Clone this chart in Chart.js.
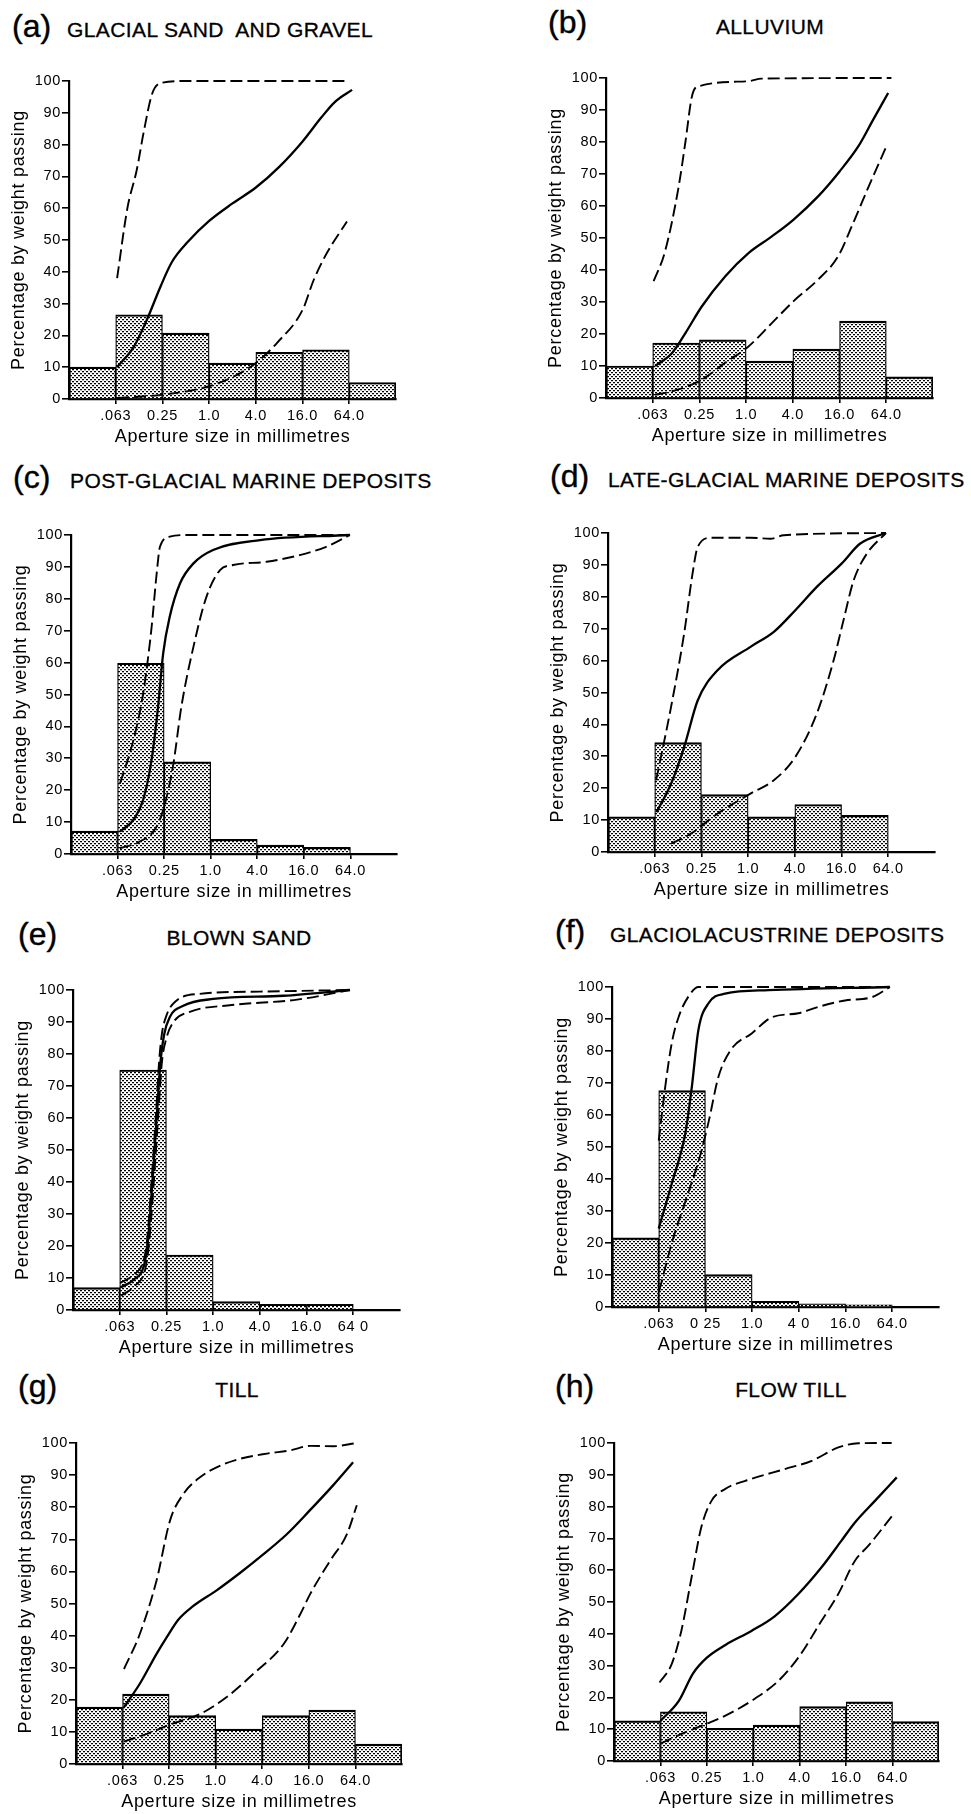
<!DOCTYPE html>
<html>
<head>
<meta charset="utf-8">
<title>Grading curves of superficial deposits</title>
<script src="https://cdn.jsdelivr.net/npm/chart.js@4.4.1/dist/chart.umd.min.js"></script>
<style>
  html, body { margin: 0; padding: 0; background: #fff; }
  #page { position: relative; width: 971px; height: 1814px; overflow: hidden;
          font-family: 'Liberation Sans', Arial, sans-serif; color: #000; }
  #page canvas { position: absolute; }
  .tag  { position: absolute; font-size: 32px; line-height: 32px; white-space: pre; -webkit-text-stroke: 0.4px #000; }
  .name { position: absolute; font-size: 21px; line-height: 21px; letter-spacing: 0.4px; white-space: pre; -webkit-text-stroke: 0.3px #000; }
  .centred { transform: translateX(-50%); }
</style>
</head>
<body>
<div id="page"></div>
<script>
// x positions are in sieve classes: 1 = .063 mm, 2 = 0.25 mm ... 6 = 64 mm
const sizeLabels  = ['.063', '0.25', '1.0', '4.0', '16.0', '64.0'];
const sizeLabelsE = ['.063', '0.25', '1.0', '4.0', '16.0', '64 0'];
const sizeLabelsF = ['.063', '0 25', '1.0', '4 0', '16.0', '64.0'];
const binCentres  = [0.5, 1.5, 2.5, 3.5, 4.5, 5.5, 6.5];

// (a) glacial sand and gravel
const aBars  = [10, 26.5, 20.7, 11.3, 14.7, 15.5, 5.2];
const aUpper = [[1.03, 38], [1.25, 60], [1.45, 72], [1.6, 84], [1.78, 96], [2.0, 99.5], [2.5, 100], [6.0, 100]];
const aMid   = [[1.03, 10], [1.39, 16.5], [1.67, 25], [1.96, 35.4], [2.2, 43], [2.55, 49.5], [3.0, 56], [3.5, 61.5],
                [4.0, 66.5], [4.5, 73], [5.0, 81], [5.4, 88.5], [5.7, 93.5], [6.06, 97.2]];
const aLower = [[1.03, 0.3], [2.03, 1.4], [3.0, 4], [3.53, 7.1], [4.0, 11.3], [4.45, 17.6], [5.0, 28], [5.24, 37.5],
                [5.52, 45.9], [5.95, 55.8]];

// (b) alluvium
const bBars  = [10, 17.2, 18.2, 11.5, 15.3, 24, 6.6];
const bUpper = [[1.02, 36.5], [1.26, 45.6], [1.55, 65.6], [1.7, 80], [1.84, 94.3], [1.98, 97.4], [3.05, 99], [3.33, 99.8], [6.11, 100]];
const bMid   = [[1.05, 10], [1.41, 14], [1.7, 20.3], [2.05, 28.6], [2.55, 38], [3.05, 45.3], [3.55, 50.5], [4.01, 55.7],
                [4.54, 63], [5.0, 70.8], [5.4, 78.6], [5.72, 87], [6.04, 95.3]];
const bLower = [[1.05, 1], [1.41, 2.1], [2.05, 5.7], [2.55, 11], [3.05, 16.1], [3.55, 23.4], [4.01, 30.2], [4.54, 37],
                [4.97, 44.3], [5.26, 53.6], [5.62, 66], [6.0, 78.6]];

// (c) post-glacial marine deposits
const cBars  = [7.2, 59.8, 28.9, 4.6, 2.8, 2.1, 0];
const cUpper = [[1.05, 22], [1.34, 35.7], [1.55, 50.4], [1.73, 71], [1.84, 88], [1.91, 96.3], [2.12, 99.5], [2.5, 100], [5.99, 100]];
const cMid   = [[1.05, 7], [1.34, 10.7], [1.55, 17], [1.73, 29.5], [1.87, 46.2], [1.98, 63], [2.12, 74.4], [2.34, 84.8],
                [2.63, 91.1], [3.05, 95.3], [4.06, 98.4], [5.99, 100]];
const cLower = [[1.05, 1.8], [1.48, 3.9], [1.84, 8.6], [2.02, 15.9], [2.2, 28.4], [2.37, 46.2], [2.63, 65], [2.91, 80.7],
                [3.2, 89], [3.48, 90.6], [4.2, 91.6], [4.91, 93.7], [5.48, 96.3], [5.99, 100]];

// (d) late-glacial marine deposits
const dBars  = [11, 34.3, 18, 11, 14.9, 11.5, 0];
const dUpper = [[1.03, 22.5], [1.35, 45.5], [1.63, 68.5], [1.81, 87.3], [1.92, 95.6], [2.2, 98.5], [3.05, 98.5], [3.48, 98.2],
                [3.76, 99.3], [5.95, 100]];
const dMid   = [[1.04, 12.5], [1.35, 21.4], [1.63, 32.9], [1.92, 47.5], [2.34, 56.9], [3.05, 64.3], [3.55, 69], [4.01, 75.8],
                [4.47, 83.1], [5.0, 90.4], [5.4, 96.7], [5.95, 100]];
const dLower = [[1.35, 2.6], [1.77, 5.7], [2.34, 12], [3.05, 18.3], [3.55, 22.5], [4.01, 29.8], [4.47, 43.4], [4.83, 60.1],
                [5.04, 72.6], [5.26, 85.2], [5.54, 93.5], [5.95, 100]];

// (e) blown sand
const eBars  = [7, 75, 17.2, 2.6, 1.8, 1.8, 0];
const eUpper = [[1.01, 8.5], [1.3, 11], [1.5, 15], [1.58, 21], [1.68, 40], [1.78, 62], [1.84, 77], [1.9, 86], [2.0, 92],
                [2.2, 96.5], [2.71, 98.8], [4.0, 99.5], [5.93, 100]];
const eMid   = [[1.01, 7], [1.3, 9.5], [1.52, 14], [1.6, 21], [1.7, 40], [1.8, 62], [1.87, 77], [1.95, 86], [2.07, 91.5],
                [2.35, 95], [3.0, 97.2], [4.5, 98.2], [5.93, 100]];
const eLower = [[1.03, 4.5], [1.32, 7.5], [1.55, 13], [1.63, 21], [1.73, 40], [1.83, 62], [1.9, 77], [2.0, 85], [2.15, 90],
                [2.5, 93.2], [3.4, 95.3], [4.8, 97], [5.93, 100]];

// (f) glaciolacustrine deposits
const fBars  = [21.6, 67.6, 10.1, 1.8, 1.0, 0.7, 0];
const fUpper = [[1.0, 52], [1.14, 68.9], [1.28, 82.5], [1.43, 90.8], [1.64, 97.1], [1.85, 100], [5.95, 100]];
const fMid   = [[1.0, 24.5], [1.28, 38.6], [1.57, 54.3], [1.71, 68.9], [1.85, 86.6], [2.07, 95], [2.42, 97.9], [3.35, 99], [5.95, 100]];
const fLower = [[1.01, 5], [1.3, 21], [1.64, 36], [1.9, 48], [2.07, 58], [2.28, 72], [2.55, 80.5], [2.99, 85.5], [3.42, 90.5],
                [3.99, 91.8], [4.42, 93.8], [4.99, 95.8], [5.56, 96.8], [5.95, 100]];

// (g) till
const gBars  = [17.7, 21.8, 15.1, 10.9, 15.1, 16.8, 6.2];
const gUpper = [[1.03, 29.6], [1.37, 40.5], [1.73, 57.2], [2.02, 75.9], [2.31, 84.2], [2.67, 89.4], [3.03, 92.5], [3.53, 95.1],
                [4.1, 96.7], [4.6, 97.7], [5.03, 99.1], [5.53, 99], [6.03, 100]];
const gMid   = [[1.03, 17.7], [1.37, 25], [1.73, 34.3], [1.95, 39.5], [2.2, 45], [2.5, 49], [3.02, 54.1], [3.52, 59.5],
                [4.02, 65.3], [4.52, 71.5], [5.02, 79], [5.52, 86.8], [5.95, 94]];
const gLower = [[1.03, 7], [1.52, 9.4], [2.02, 12.3], [2.67, 15.6], [3.23, 20.8], [3.81, 28.1], [4.46, 37.4], [4.82, 46.8],
                [5.03, 53], [5.46, 63.4], [5.82, 71.7], [6.03, 80.6]];

// (h) flow till
const hBars  = [12.6, 15.5, 10.3, 11.3, 17.1, 18.6, 12.4];
const hUpper = [[0.98, 24.7], [1.24, 30.4], [1.45, 40.9], [1.67, 57.7], [1.88, 73.5], [2.1, 81.8], [2.39, 85.5], [2.96, 88.7],
                [3.68, 91.8], [4.26, 94.4], [4.83, 98.6], [5.26, 99.9], [5.98, 100]];
const hMid   = [[1.0, 12.6], [1.4, 19], [1.7, 27.5], [2.0, 32.5], [2.4, 36.5], [2.96, 40.9], [3.46, 45.5], [3.97, 52.5],
                [4.47, 60.9], [4.9, 69.3], [5.19, 75], [5.62, 81.8], [6.09, 89.2]];
const hLower = [[1.0, 5.5], [1.52, 8.9], [1.96, 11.5], [2.39, 14.2], [2.96, 18.9], [3.54, 25.2], [3.97, 32.5], [4.47, 44.1],
                [4.83, 52.5], [5.19, 63], [5.48, 67.7], [6.05, 78.2]];

const FONT = "'Liberation Sans', Arial, sans-serif";
const INK = '#000';
const AXIS_W = 61, AXIS_H = 49, PAD_T = 12, PAD_R = 12;

// box: [x of 0, x of 7, y of 100, y of 0] on the page
const panels = [
  { tag: '(a)', tagX: 12,  name: 'GLACIAL SAND  AND GRAVEL',     nameX: 67,  base: 37,   box: [69, 396, 81, 399],
    bars: aBars, upper: aUpper, mid: aMid, lower: aLower, labels: sizeLabels },
  { tag: '(b)', tagX: 548, name: 'ALLUVIUM',                     nameX: 770, base: 33.5, box: [606, 933, 78, 398], centred: true,
    bars: bBars, upper: bUpper, mid: bMid, lower: bLower, labels: sizeLabels },
  { tag: '(c)', tagX: 13,  name: 'POST-GLACIAL MARINE DEPOSITS', nameX: 70,  base: 488,  box: [71, 397, 535, 854],
    bars: cBars, upper: cUpper, mid: cMid, lower: cLower, labels: sizeLabels },
  { tag: '(d)', tagX: 550, name: 'LATE-GLACIAL MARINE DEPOSITS', nameX: 608, base: 487,  box: [608, 935, 533, 852],
    bars: dBars, upper: dUpper, mid: dMid, lower: dLower, labels: sizeLabels },
  { tag: '(e)', tagX: 18,  name: 'BLOWN SAND',                   nameX: 239, base: 945,  box: [73, 400, 990, 1310], centred: true,
    bars: eBars, upper: eUpper, mid: eMid, lower: eLower, labels: sizeLabelsE },
  { tag: '(f)', tagX: 555, name: 'GLACIOLACUSTRINE DEPOSITS',    nameX: 610, base: 942,  box: [612, 939, 987, 1307],
    bars: fBars, upper: fUpper, mid: fMid, lower: fLower, labels: sizeLabelsF },
  { tag: '(g)', tagX: 18,  name: 'TILL',                         nameX: 237, base: 1397, box: [76, 402, 1443, 1764], centred: true,
    bars: gBars, upper: gUpper, mid: gMid, lower: gLower, labels: sizeLabels },
  { tag: '(h)', tagX: 555, name: 'FLOW TILL',                    nameX: 791, base: 1397, box: [614, 939, 1443, 1761], centred: true,
    bars: hBars, upper: hUpper, mid: hMid, lower: hLower, labels: sizeLabels },
];

const page = document.getElementById('page');

// dotted fill like the printed stipple
function makeStipple() {
  const c = document.createElement('canvas');
  c.width = 4; c.height = 4;
  const g = c.getContext('2d');
  g.fillStyle = '#fff'; g.fillRect(0, 0, 4, 4);
  g.fillStyle = '#000'; g.fillRect(0, 0, 2, 1); g.fillRect(2, 2, 2, 1);
  g.fillStyle = '#bbb'; g.fillRect(0, 1, 2, 1); g.fillRect(2, 3, 2, 1);
  return g.createPattern(c, 'repeat');
}
const stipple = makeStipple();

// the printed lettering is widely tracked
const spacing = { id: 'spacing', beforeDraw: (chart) => { chart.ctx.letterSpacing = '0.7px'; } };

function curve(pts, dashed) {
  return {
    type: 'line',
    data: pts.map(([x, y]) => ({ x, y })),
    borderColor: INK,
    borderWidth: dashed ? 1.9 : 2.3,
    borderDash: dashed ? [12, 5] : [],
    pointRadius: 0,
    fill: false,
    cubicInterpolationMode: 'monotone',
    clip: false,
    order: 1
  };
}

function addHeading(p) {
  const tag = document.createElement('div');
  tag.className = 'tag';
  tag.textContent = p.tag;
  tag.style.left = p.tagX + 'px';
  tag.style.top = (p.base - 0.8465 * 32) + 'px';
  page.appendChild(tag);

  const name = document.createElement('div');
  name.className = 'name' + (p.centred ? ' centred' : '');
  name.textContent = p.name;
  name.style.left = p.nameX + 'px';
  name.style.top = (p.base - 0.8465 * 21) + 'px';
  page.appendChild(name);
}

function drawPanel(p) {
  const [x0, x7, yTop, yBottom] = p.box;
  const w = Math.round(AXIS_W + (x7 - x0) + PAD_R);
  const h = Math.round(PAD_T + (yBottom - yTop) + AXIS_H);
  const canvas = document.createElement('canvas');
  canvas.width = w; canvas.height = h;
  canvas.style.width = w + 'px'; canvas.style.height = h + 'px';
  canvas.style.left = (x0 - AXIS_W) + 'px';
  canvas.style.top = (yTop - PAD_T) + 'px';
  page.appendChild(canvas);

  new Chart(canvas.getContext('2d'), {
    type: 'bar',
    data: {
      datasets: [
        {
          type: 'bar',
          data: p.bars.map((y, i) => ({ x: binCentres[i], y })),
          backgroundColor: stipple,
          borderColor: INK,
          borderWidth: (c) => ({ top: 2.2, bottom: 0, left: c.dataIndex === 0 ? 2 : 1.3, right: c.dataIndex === 6 ? 2 : 1.3 }),
          borderSkipped: false,
          barPercentage: 1,
          categoryPercentage: 1,
          order: 2
        },
        curve(p.upper, true),
        curve(p.mid, false),
        curve(p.lower, true)
      ]
    },
    options: {
      responsive: false,
      animation: false,
      devicePixelRatio: 1,
      layout: { padding: { top: PAD_T, right: PAD_R, left: 0, bottom: 0 } },
      plugins: { legend: { display: false }, tooltip: { enabled: false } },
      scales: {
        x: {
          type: 'linear', min: 0, max: 7, offset: false,
          afterBuildTicks: (s) => { s.ticks = p.labels.map((_, i) => ({ value: i + 1 })); },
          afterFit: (s) => { s.height = AXIS_H; },
          ticks: { callback: (v) => p.labels[Math.round(v) - 1], font: { size: 14.5, family: FONT }, color: INK,
                   padding: 3, maxRotation: 0, autoSkip: false },
          grid: { drawOnChartArea: false, drawTicks: true, tickLength: 5, color: INK, lineWidth: 1.6, offset: false },
          border: { display: true, color: INK, width: 2.2 },
          title: { display: true, text: 'Aperture size in millimetres', font: { size: 18, family: FONT }, color: INK, padding: 0 }
        },
        y: {
          min: 0, max: 100,
          afterFit: (s) => { s.width = AXIS_W; },
          ticks: { stepSize: 10, font: { size: 14.5, family: FONT }, color: INK, padding: 1 },
          grid: { drawOnChartArea: false, drawTicks: true, tickLength: 7, color: INK, lineWidth: 1.6 },
          border: { display: true, color: INK, width: 2.2 },
          title: { display: true, text: 'Percentage by weight passing', font: { size: 18, family: FONT }, color: INK, padding: 0 }
        }
      }
    },
    plugins: [spacing]
  });
}

panels.forEach((p) => { addHeading(p); drawPanel(p); });
</script>
</body>
</html>
